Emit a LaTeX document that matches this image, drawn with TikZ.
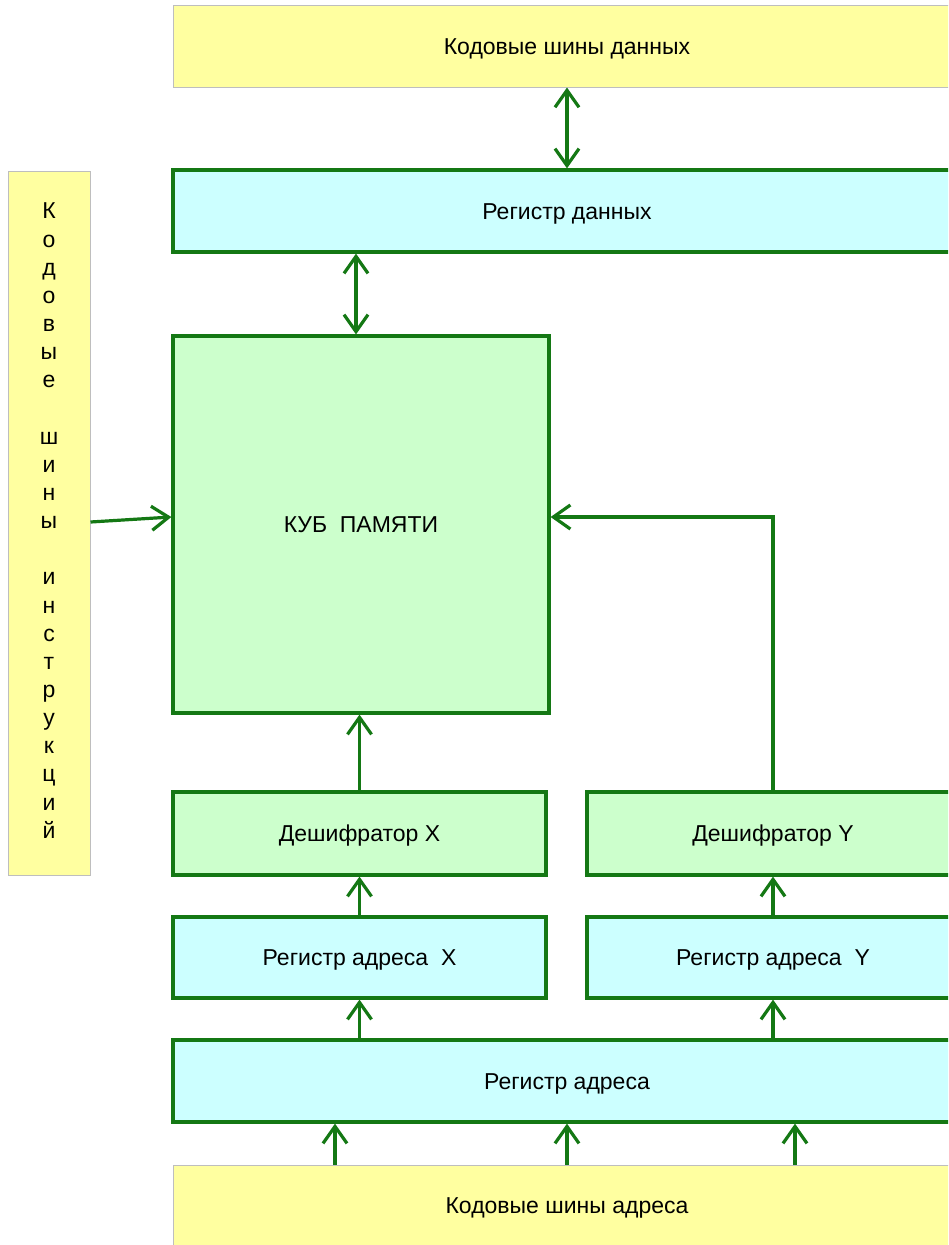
\documentclass[tikz,border=0pt]{standalone}
\usepackage{fontspec}
\setmainfont{Liberation Sans}
\usetikzlibrary{arrows.meta}
\definecolor{lnG}{RGB}{20,120,20}
\definecolor{fYel}{RGB}{255,255,160}
\definecolor{fCyan}{RGB}{204,255,255}
\definecolor{fGreen}{RGB}{204,255,204}
\definecolor{bGray}{RGB}{190,190,190}
\tikzset{
  txt/.style={font=\fontsize{23}{27}\selectfont, text=black, inner sep=0pt, text height=17pt, text depth=0.5pt},
  ybox/.style={txt, draw=bGray, line width=1pt, fill=fYel},
  cbox/.style={txt, draw=lnG, line width=3.2pt, fill=fCyan},
  gbox/.style={txt, draw=lnG, line width=3.2pt, fill=fGreen},
  arr/.style={draw=lnG, line width=3.2pt, -{Straight Barb[length=17pt,width=24pt,line width=3.2pt]}},
  darr/.style={draw=lnG, line width=3.2pt, {Straight Barb[length=17pt,width=24pt,line width=3.2pt]}-{Straight Barb[length=17pt,width=24pt,line width=3.2pt]}}
}
\begin{document}
\begin{tikzpicture}[x=1pt,y=-1pt]
\useasboundingbox (0,0) rectangle (948,1245);
\clip (0,0) rectangle (948,1245);
\fill[white] (0,0) rectangle (948,1245);
\node[ybox, minimum width=788pt, minimum height=82pt] (top) at (567,46) {Кодовые шины данных};
\node[cbox, minimum width=788pt, minimum height=82pt] (regd) at (567,211) {Регистр данных};
\node[draw=bGray, line width=1pt, fill=fYel, text=black, inner sep=0pt,
      minimum width=82pt, minimum height=704pt, align=center,
      font=\fontsize{23}{28.15}\selectfont] (left) at (49,523)
  {\strut К\\\strut о\\\strut д\\\strut о\\\strut в\\\strut ы\\\strut е\\\strut\\\strut ш\\\strut и\\\strut н\\\strut ы\\\strut\\\strut и\\\strut н\\\strut с\\\strut т\\\strut р\\\strut у\\\strut к\\\strut ц\\\strut и\\\strut й};
\node[gbox, minimum width=376pt, minimum height=377pt] (kub) at (361,524.5) {КУБ\ \ ПАМЯТИ};
\node[gbox, minimum width=373pt, minimum height=83pt] (decx) at (359.5,833.5) {Дешифратор X};
\node[gbox, minimum width=372pt, minimum height=83pt] (decy) at (773,833.5) {Дешифратор Y};
\node[cbox, minimum width=373pt, minimum height=81pt] (regx) at (359.5,957.5) {Регистр адреса\ \ X};
\node[cbox, minimum width=372pt, minimum height=81pt] (regy) at (773,957.5) {Регистр адреса\ \ Y};
\node[cbox, minimum width=788pt, minimum height=82pt] (rega) at (567,1081) {Регистр адреса};
\node[ybox, minimum width=788pt, minimum height=80pt] (bot) at (567,1205) {Кодовые шины адреса};
% connectors
\draw[darr] (top.south) -- (regd.north);
\draw[darr] (regd.south -| 356,0) -- (kub.north -| 356,0);
\draw[arr] (left.east |- 0,522) -- (kub.west |- 0,517);
\draw[arr] (decy.north) |- (kub.east |- 0,517);
\draw[arr] (decx.north) -- (kub.south -| decx.north);
\draw[arr] (regx.north) -- (decx.south);
\draw[arr] (regy.north) -- (decy.south);
\draw[arr] (rega.north -| regx.north) -- (regx.south);
\draw[arr] (rega.north -| regy.north) -- (regy.south);
\draw[arr] (bot.north -| 335,0) -- (rega.south -| 335,0);
\draw[arr] (bot.north) -- (rega.south);
\draw[arr] (bot.north -| 795,0) -- (rega.south -| 795,0);
\end{tikzpicture}
\end{document}
